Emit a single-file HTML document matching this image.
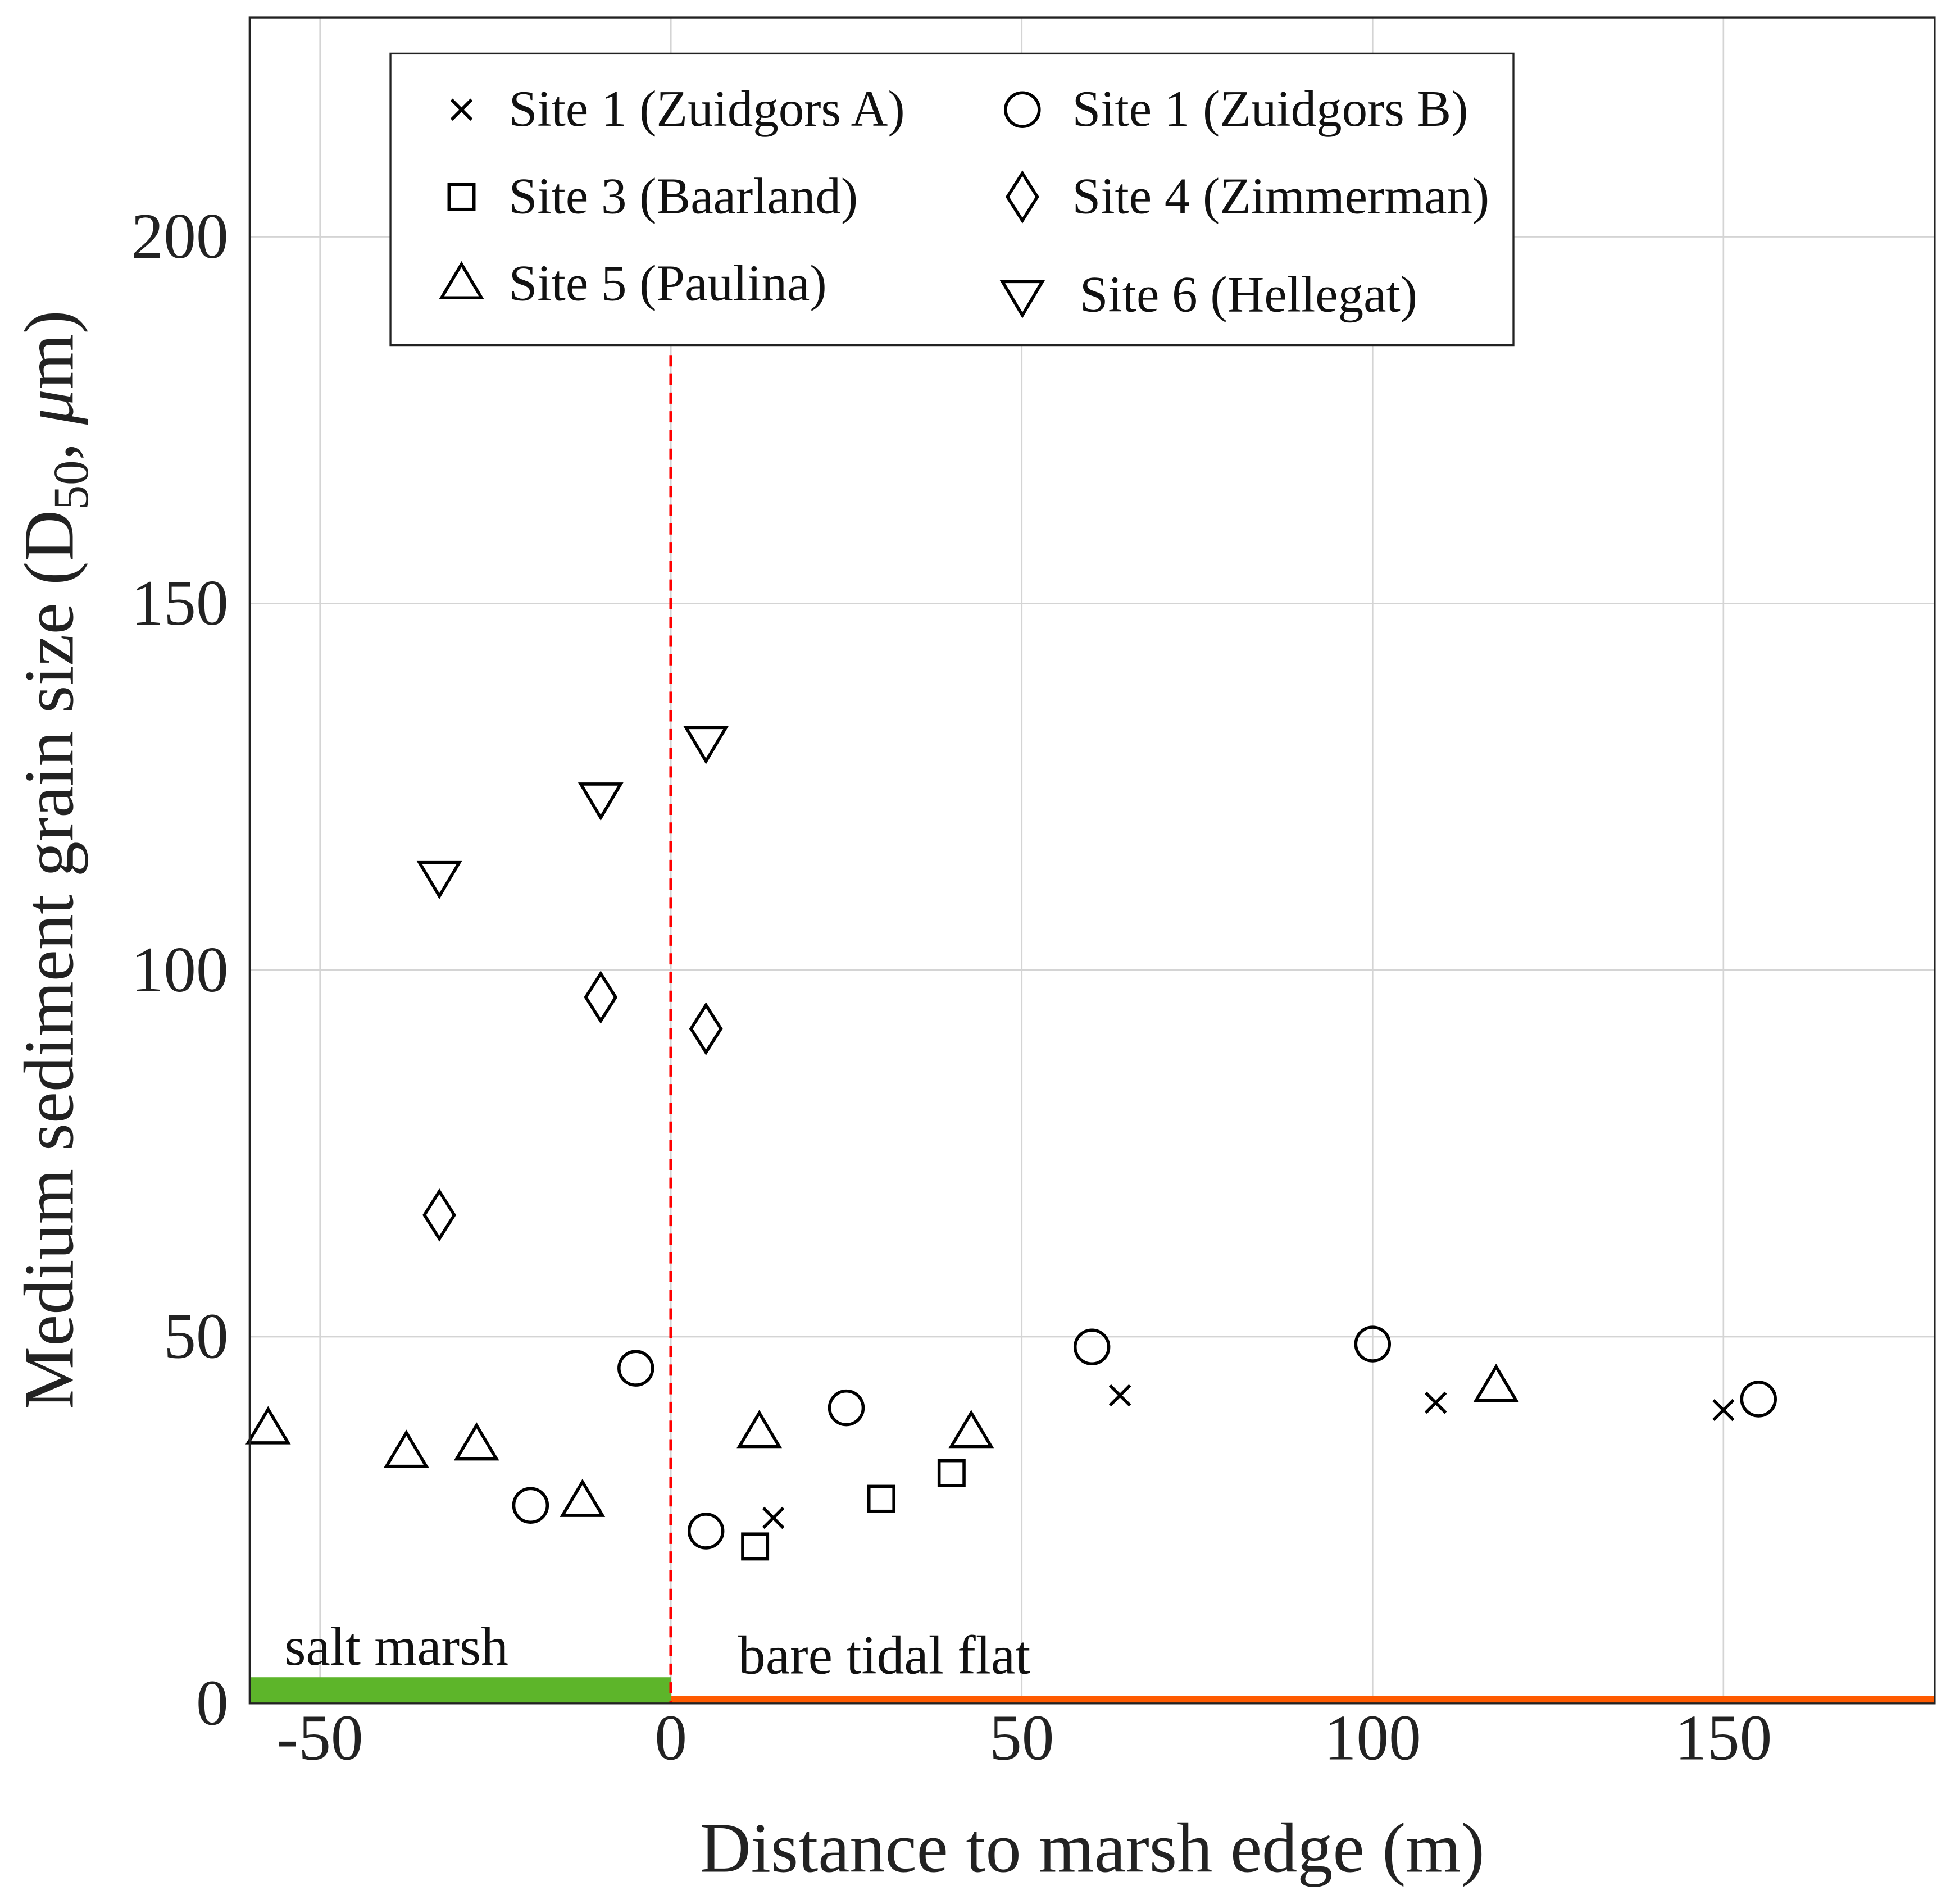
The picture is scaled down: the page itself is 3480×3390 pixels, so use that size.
<!DOCTYPE html>
<html><head><meta charset="utf-8"><style>html,body{margin:0;padding:0;background:#fff}svg{display:block}</style></head>
<body>
<svg id="chart" width="3480" height="3390" viewBox="0 0 1568 1528" xmlns="http://www.w3.org/2000/svg" font-family="Liberation Serif, serif">
<g id="grid"></g>
<g id="zones"></g>
<g id="marks"></g>
<rect x="200" y="14" width="1352" height="1353" fill="none" stroke="#222" stroke-width="1.5"/>
<g id="ticks" font-size="52" fill="#222"></g>
<text x="876" y="1502" font-size="57" text-anchor="middle" fill="#222">Distance to marsh edge (m)</text>
<text transform="translate(58,690) rotate(-90)" font-size="57" text-anchor="middle" fill="#222">Medium sediment grain size (D<tspan font-size="40" dy="12">50</tspan><tspan dy="-12">, </tspan><tspan font-style="italic">μ</tspan>m)</text>
<text x="228" y="1336" font-size="44" fill="#111">salt marsh</text>
<text x="592" y="1343" font-size="44" fill="#111">bare tidal flat</text>
<g id="legend">
<rect x="313" y="43" width="901" height="234" fill="#fff" stroke="#222" stroke-width="1.5"/>
</g>
</svg>
<script>
const siteNames=["Site 1 (Zuidgors A)","Site 1 (Zuidgors B)","Site 3 (Baarland)","Site 4 (Zimmerman)","Site 5 (Paulina)","Site 6 (Hellegat)"];
const siteMarkers=["x","o","s","d","t","v"];
const s1aX=[14.6,64,109,150];const s1aY=[25.3,42,41,40];
const s1bX=[-20,-5,5,25,60,100,155];const s1bY=[27,45.7,23.5,40.3,48.6,49,41.5];
const s3X=[12,30,40];const s3Y=[21.4,27.9,31.4];
const s4X=[-33,-10,5];const s4Y=[66.6,96.3,92];
const s5X=[-57.4,-37.7,-27.7,-12.6,12.6,42.8,117.6];const s5Y=[37.4,34.2,35.2,27.5,36.9,36.9,43.2];
const s6X=[-33,-10,5];const s6Y=[112.8,123.5,131.2];
const xTicks=[-50,0,50,100,150];const yTicks=[0,50,100,150,200];
const NS="http://www.w3.org/2000/svg";
const X=v=>538+(v)*5.63;const Y=v=>1367-v*5.885;
function mk(tag,attrs,parent){const e=document.createElementNS(NS,tag);for(const k in attrs)e.setAttribute(k,attrs[k]);parent.appendChild(e);return e;}
const grid=document.getElementById('grid'),ticks=document.getElementById('ticks'),marks=document.getElementById('marks'),zones=document.getElementById('zones'),legend=document.getElementById('legend');
xTicks.forEach(t=>{const l=mk('line',{x1:X(t),x2:X(t),y1:14,y2:1367,stroke:'#d4d4d4','stroke-width':1.2},grid);

const tx=mk('text',{x:X(t),y:1412,'text-anchor':'middle'},ticks);tx.textContent=t;
});
yTicks.forEach(t=>{const l=mk('line',{x1:200,x2:1552,y1:Y(t),y2:Y(t),stroke:'#d4d4d4','stroke-width':1.2},grid);

const tx=mk('text',{x:183,y:Y(t)+17,'text-anchor':'end'},ticks);tx.textContent=t;
});
let z=mk('rect',{x:X(-60),y:Y(0)-21,width:X(0)-X(-60),height:21,fill:'#5db52a'},zones);

z=mk('rect',{x:X(0),y:Y(0)-6,width:X(180)-X(0),height:6,fill:'#ff5a00'},zones);

z=mk('line',{x1:X(0),x2:X(0),y1:285,y2:1367,stroke:'#f00','stroke-width':2.5,'stroke-dasharray':'9,6'},zones);

function marker(type,cx,cy,p){const st={fill:'none',stroke:'#000','stroke-width':2.5};let e;
if(type==='x'){e=mk('path',Object.assign({d:`M${cx-8},${cy-8}L${cx+8},${cy+8}M${cx-8},${cy+8}L${cx+8},${cy-8}`},st),p);}
else if(type==='o'){e=mk('circle',Object.assign({cx:cx,cy:cy,r:13.5},st),p);}
else if(type==='s'){e=mk('rect',Object.assign({x:cx-10,y:cy-10,width:20,height:20},st),p);}
else if(type==='d'){e=mk('path',Object.assign({d:`M${cx},${cy-19}L${cx+12},${cy}L${cx},${cy+19}L${cx-12},${cy}Z`},st),p);}
else if(type==='t'){e=mk('path',Object.assign({d:`M${cx},${cy-16}L${cx+16},${cy+11}L${cx-16},${cy+11}Z`},st),p);}
else {e=mk('path',Object.assign({d:`M${cx},${cy+16}L${cx+16},${cy-11}L${cx-16},${cy-11}Z`},st),p);}
return e;}
const series=[[s1aX,s1aY],[s1bX,s1bY],[s3X,s3Y],[s4X,s4Y],[s5X,s5Y],[s6X,s6Y]];
series.forEach((s,i)=>{s[0].forEach((xv,j)=>{const e=marker(siteMarkers[i],X(xv),Y(s[1][j]),marks);

});});
const lx=[370,820],lty=[88,158,228];
siteNames.forEach((n,i)=>{const col=i%2,row=Math.floor(i/2);const yy=lty[row]+(i===5?9:0);
const m=marker(siteMarkers[i],lx[col],yy,legend);


const t=mk('text',{x:(col?860:408)+(i===5?6:0),y:yy+13,'font-size':41,fill:'#111'},legend);t.textContent=n;

});
</script>
</body></html>
